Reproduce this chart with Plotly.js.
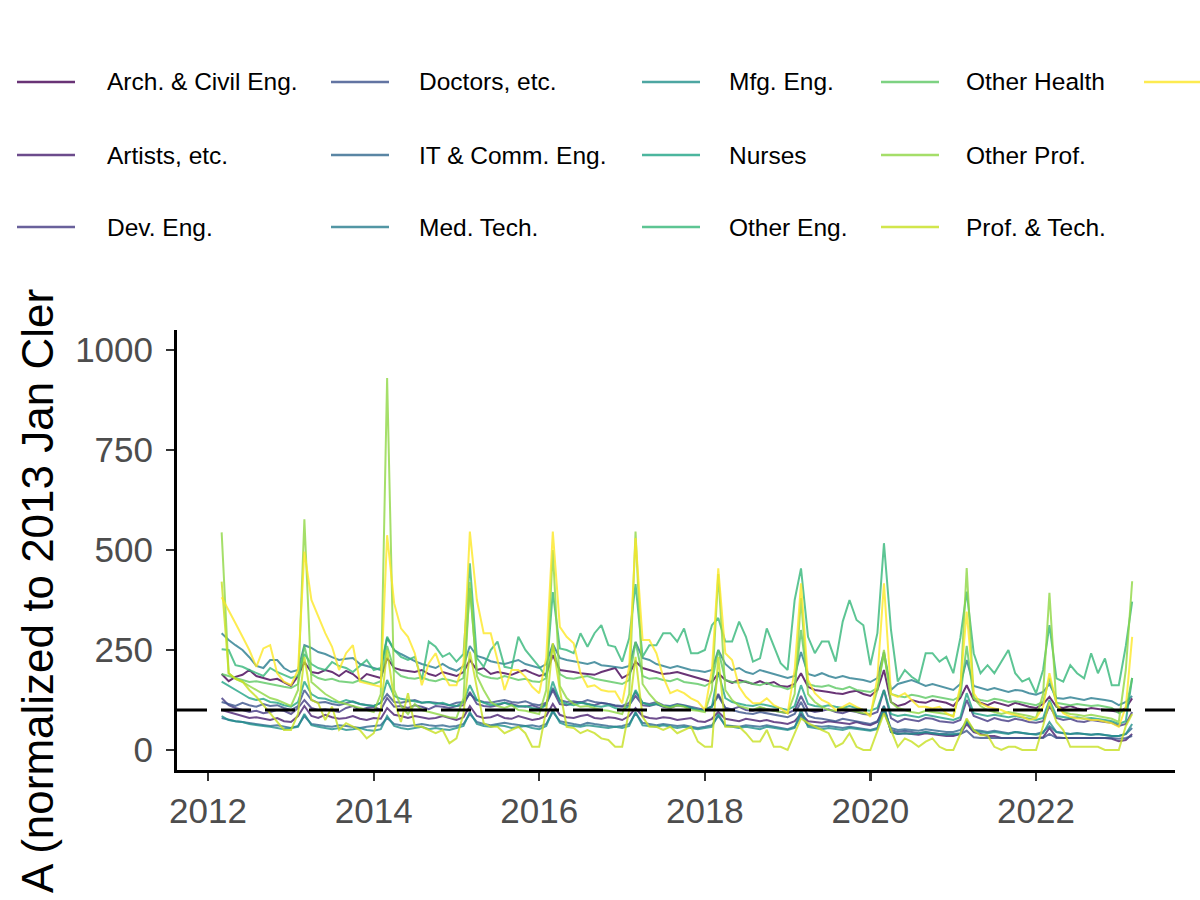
<!DOCTYPE html>
<html>
<head>
<meta charset="utf-8">
<script src="https://cdn.plot.ly/plotly-3.0.1.min.js"></script>
<style>html,body{margin:0;padding:0;background:#fff}#chart{width:1200px;height:900px}</style>
</head>
<body>
<div id="chart"></div>
<script>
// ---------- data ----------
const firstYear = 2012, firstMonth = 3, monthCount = 133; // Mar 2012 .. Mar 2023

const occupations = ["Arch. & Civil Eng.", "Artists, etc.", "Dev. Eng.", "Doctors, etc.", "IT & Comm. Eng.",
  "Med. Tech.", "Mfg. Eng.", "Nurses", "Other Eng.", "Other Health", "Other Prof.", "Prof. & Tech.", "Teachers"];

const palette = ["#440154", "#481F70", "#443A83", "#3B528B", "#31688E", "#287C8E", "#21908C",
  "#20A486", "#35B779", "#5DC863", "#8FD744", "#C7E020", "#FDE725"];

const archCivil = [
  190,172,183,188,200,185,180,175,178,170,160,185,
  220,195,192,200,195,185,198,190,175,190,185,180,
  230,205,200,198,195,200,190,185,195,190,185,195,
  225,200,205,190,195,192,188,195,200,192,185,190,
  237,200,198,195,192,190,188,195,200,205,180,190,
  221,205,200,195,190,192,195,190,185,180,175,170,
  192,175,168,175,170,165,172,165,170,160,158,165,
  192,158,150,148,145,142,140,145,148,140,135,150,
  200,120,110,115,125,120,118,125,122,118,110,130,
  162,125,118,112,120,115,110,118,112,108,105,115,
  133,108,105,110,104,100,105,102,100,98,95,105,
  129];

const artists = [
  100,95,90,85,80,82,78,75,80,72,70,85,
  110,85,80,88,82,78,80,85,78,75,80,78,
  105,88,85,80,85,82,78,80,85,80,75,82,
  110,85,80,82,88,80,78,85,80,75,78,85,
  115,88,82,80,85,88,80,78,82,80,75,85,
  105,85,80,78,82,80,75,78,80,72,70,78,
  95,78,75,72,78,75,72,75,70,68,65,72,
  90,72,70,68,72,70,68,65,70,65,62,70,
  110,45,40,42,40,38,42,40,38,35,35,40,
  65,45,40,35,35,30,30,30,30,30,30,32,
  55,32,30,30,30,30,30,30,30,28,22,25,
  40];

const devEng = [
  130,112,105,100,95,98,92,95,100,98,90,105,
  125,105,100,102,98,95,105,110,100,105,108,100,
  130,108,110,105,112,108,102,110,108,105,110,112,
  145,115,110,108,112,118,115,110,108,112,105,115,
  150,115,112,118,120,115,112,118,115,110,108,112,
  135,112,110,115,108,105,112,110,105,100,102,108,
  140,105,102,108,100,98,105,102,98,95,92,100,
  135,100,95,98,102,95,92,98,95,90,88,95,
  150,80,70,78,75,72,80,78,72,70,68,75,
  125,85,78,72,80,75,72,78,75,70,68,72,
  110,80,75,78,72,70,75,72,70,68,60,65,
  95];

const doctors = [
  120,115,110,118,112,108,115,110,112,105,100,110,
  150,125,118,120,115,112,118,122,115,112,110,118,
  140,120,118,122,125,118,120,118,115,112,118,120,
  140,125,120,118,122,125,120,118,122,115,112,118,
  155,125,120,122,118,125,120,118,115,112,110,118,
  145,118,115,120,112,110,115,112,108,105,100,110,
  135,105,100,95,92,90,95,92,88,85,82,90,
  120,85,80,78,75,72,78,75,70,68,65,72,
  95,50,45,48,45,42,45,42,40,40,38,40,
  48,32,30,30,30,30,30,30,30,30,30,30,
  40,30,30,30,30,30,30,30,30,30,28,30,
  35];

const itComm = [
  80,75,72,70,68,65,62,60,62,58,55,60,
  85,65,62,60,58,62,60,58,55,58,60,62,
  80,65,62,60,62,65,62,60,62,58,60,65,
  90,70,65,62,65,68,65,62,60,62,58,65,
  95,72,68,65,62,68,65,62,60,58,60,65,
  92,68,65,62,65,62,60,62,58,55,58,62,
  85,62,60,58,62,60,58,62,58,55,52,58,
  85,62,60,58,60,58,55,58,55,52,50,55,
  100,55,50,52,50,48,52,50,48,45,45,50,
  70,50,48,45,48,45,42,45,42,40,40,45,
  60,45,42,40,42,40,38,40,38,35,35,40,
  55];

const medTech = [
  292,275,262,250,232,210,205,225,225,205,195,200,
  262,255,245,240,232,225,228,230,215,210,205,200,
  280,250,240,230,222,215,210,205,215,205,198,210,
  260,235,230,222,218,215,220,225,215,210,205,215,
  265,230,225,222,218,215,220,212,210,208,205,210,
  270,230,225,215,210,205,210,205,200,198,195,200,
  250,215,200,205,195,190,200,195,190,185,180,185,
  245,190,185,192,185,180,185,180,178,175,170,180,
  245,150,165,170,175,168,160,165,160,155,150,165,
  225,160,155,150,155,150,145,150,148,142,138,145,
  165,130,128,132,128,125,130,128,125,122,112,120,
  135];

const mfgEng = [
  85,75,72,70,65,62,60,58,55,52,55,58,
  90,62,58,55,52,55,50,52,55,50,48,52,
  85,60,55,52,55,58,52,55,52,50,55,60,
  95,65,60,58,62,60,55,58,60,55,52,60,
  100,68,62,60,58,62,60,58,55,58,55,60,
  95,62,60,58,62,58,55,58,55,52,55,58,
  90,60,58,55,58,55,52,58,55,52,50,55,
  100,58,55,52,55,52,50,55,52,50,48,52,
  110,45,40,42,40,42,45,42,40,38,40,42,
  75,48,45,42,45,42,40,45,42,40,38,42,
  70,45,42,40,42,40,38,40,38,35,35,40,
  65];

const nurses = [
  171,160,150,140,130,125,128,120,118,112,108,120,
  171,140,130,128,122,118,125,120,115,112,110,118,
  175,135,128,125,122,118,120,115,118,112,110,120,
  162,125,118,112,115,118,112,108,110,105,102,112,
  171,122,115,112,118,115,110,108,112,105,100,110,
  150,118,112,115,110,108,112,110,105,100,98,108,
  195,130,120,115,112,110,115,112,108,105,100,110,
  162,115,110,108,112,108,105,110,105,100,98,105,
  150,90,85,88,85,82,88,85,80,78,75,82,
  142,92,88,85,88,85,82,85,82,78,75,80,
  125,85,82,80,82,78,80,78,75,72,65,72,
  180];

const otherEng = [
  252,250,212,208,200,192,185,205,195,188,180,185,
  240,215,205,200,220,210,205,195,210,225,200,205,
  283,250,233,225,233,175,271,258,233,242,221,240,
  467,230,208,250,271,208,204,283,250,229,208,183,
  395,254,250,242,292,258,292,312,262,258,221,279,
  415,233,262,262,292,292,271,304,242,242,250,312,
  330,271,271,321,283,221,229,304,262,217,200,375,
  454,283,242,271,271,221,321,375,325,312,212,292,
  517,300,171,200,183,171,242,242,221,233,192,280,
  396,242,192,212,192,221,250,192,171,179,142,200,
  312,179,171,212,192,179,242,192,229,162,162,260,
  371];

const otherHealth = [
  190,185,180,175,170,172,168,165,160,158,155,165,
  260,190,180,175,178,172,170,168,175,170,165,172,
  260,200,185,180,178,182,175,172,178,175,170,180,
  405,195,185,180,178,185,180,175,178,172,170,180,
  260,190,180,178,182,185,178,175,172,170,165,175,
  270,185,178,180,175,172,178,170,168,165,160,170,
  250,175,170,168,172,165,162,168,160,158,152,160,
  300,165,160,158,162,155,152,158,150,148,145,155,
  240,140,135,132,138,135,130,135,132,128,125,135,
  260,130,125,122,128,125,120,122,118,115,112,120,
  180,118,115,112,115,112,110,112,108,105,92,100,
  180];

const otherProf = [
  544,192,178,170,160,150,140,130,125,118,110,150,
  577,170,155,140,130,120,115,110,105,100,95,140,
  930,150,110,90,115,100,95,90,85,82,80,130,
  420,185,150,120,110,105,112,100,98,95,90,150,
  500,160,130,115,108,110,105,100,98,95,90,140,
  546,165,140,120,110,105,112,108,100,98,95,150,
  440,150,125,110,105,100,108,102,98,95,92,140,
  380,140,120,108,100,98,105,100,95,92,90,150,
  250,120,105,100,95,92,98,95,92,90,85,150,
  455,130,110,100,95,90,95,92,88,85,80,140,
  393,110,95,90,88,85,88,85,82,78,70,200,
  422];

const profTech = [
  421,192,178,171,150,133,112,92,70,50,50,90,
  233,125,117,75,108,50,67,58,50,29,42,100,
  250,125,70,142,60,58,50,42,50,17,29,90,
  246,158,67,58,58,42,50,58,42,8,8,100,
  267,150,58,55,42,50,42,29,25,8,8,100,
  233,83,58,58,50,58,42,50,58,21,8,8,
  233,58,58,58,42,21,21,50,8,8,0,40,
  79,67,58,50,42,8,17,42,8,0,0,50,
  92,50,8,29,21,8,21,29,8,0,0,40,
  79,50,37,37,8,0,8,8,0,0,0,60,
  120,70,50,8,8,8,8,8,0,0,0,60,
  90];

const teachers = [
  382,350,317,283,250,208,254,262,192,171,162,200,
  496,375,333,292,258,200,242,262,171,167,162,158,
  537,367,304,283,242,162,217,242,192,162,162,217,
  546,375,292,292,225,150,200,200,183,158,142,230,
  546,308,283,267,192,158,162,150,146,146,117,208,
  530,275,275,242,183,142,150,142,129,121,100,200,
  454,242,225,158,133,117,117,129,112,104,92,200,
  417,175,142,125,117,100,108,117,108,100,83,180,
  417,140,133,142,125,108,108,104,108,92,83,160,
  346,142,117,108,104,100,92,88,83,75,79,108,
  192,117,92,83,79,79,75,75,71,67,58,108,
  283];

const seriesValues = [archCivil, artists, devEng, doctors, itComm, medTech, mfgEng,
  nurses, otherEng, otherHealth, otherProf, profTech, teachers];

const referenceLevel = 100;
const yTickValues = [0, 250, 500, 750, 1000];
const xTickYears = ["2012", "2014", "2016", "2018", "2020", "2022"];
const yTitle = "A (normalized to 2013 Jan Cler";

// ---------- build ----------
const dates = [];
for (let k = 0; k < monthCount; k++) {
  const m0 = firstMonth - 1 + k;
  const y = firstYear + Math.floor(m0 / 12);
  const m = (m0 % 12) + 1;
  dates.push(y + "-" + String(m).padStart(2, "0") + "-01");
}

const traces = occupations.map((name, i) => ({
  type: "scatter", mode: "lines", name: name,
  x: dates, y: seriesValues[i],
  line: {color: palette[i], width: 2},
  opacity: 0.8, showlegend: false, hoverinfo: "x+y+name"
}));

// plot area in pixels
const L = 177, R = 25, T = 330, B = 130, W = 1200, H = 900;
const pw = W - L - R, ph = H - T - B;
const px2x = p => (p - L) / pw;
const py2y = p => (H - B - p) / ph;

const FONT = "Liberation Sans, Arial, Helvetica, sans-serif";

// manual legend (column-major, 3 rows)
const legLineX = [17, 331, 642, 881, 1144];
const legTextX = [105, 417, 727, 964, 1232];
const legRowY = [82, 155, 227];
const shapes = [{
  type: "line", xref: "paper", x0: 0, x1: 1, yref: "y", y0: referenceLevel, y1: referenceLevel,
  line: {color: "#000", width: 3, dash: "30px,14px"}, layer: "above"
}];
const annotations = [];
occupations.forEach((name, i) => {
  const col = Math.floor(i / 3), row = i % 3;
  const yy = py2y(legRowY[row]);
  shapes.push({type: "line", xref: "paper", yref: "paper",
    x0: px2x(legLineX[col]), x1: px2x(legLineX[col] + 58), y0: yy, y1: yy,
    line: {color: palette[i], width: 2.6}, opacity: 0.8});
  if (legTextX[col] < W) {
    annotations.push({xref: "paper", yref: "paper", x: px2x(legTextX[col]), y: yy,
      xanchor: "left", yanchor: "middle", showarrow: false, text: name,
      font: {family: FONT, size: 24.5, color: "#000"}});
  }
});
annotations.push({xref: "paper", yref: "paper", x: px2x(37), y: py2y(591),
  xanchor: "center", yanchor: "middle", showarrow: false, textangle: -90, text: yTitle,
  font: {family: FONT, size: 44, color: "#000"}});

const layout = {
  width: W, height: H,
  margin: {l: L, r: R, t: T, b: B, pad: 0},
  paper_bgcolor: "#fff", plot_bgcolor: "#fff",
  font: {family: FONT},
  showlegend: false,
  xaxis: {
    type: "date", range: ["2011-08-17", "2023-09-06"],
    tickvals: xTickYears.map(y => y + "-01-01"), ticktext: xTickYears,
    showgrid: false, zeroline: false,
    showline: true, linecolor: "#000", linewidth: 3,
    ticks: "outside", ticklen: 8, tickwidth: 2.4, tickcolor: "#333",
    tickfont: {family: FONT, size: 35, color: "#4D4D4D"}
  },
  yaxis: {
    range: [-50, 1050], tickvals: yTickValues,
    showgrid: false, zeroline: false,
    showline: true, linecolor: "#000", linewidth: 3,
    ticks: "outside", ticklen: 8, tickwidth: 2.4, tickcolor: "#333",
    ticklabelstandoff: 6,
    tickfont: {family: FONT, size: 35, color: "#4D4D4D"}
  },
  shapes: shapes,
  annotations: annotations
};

Plotly.newPlot("chart", traces, layout, {staticPlot: true, displayModeBar: false});
</script>
</body>
</html>
